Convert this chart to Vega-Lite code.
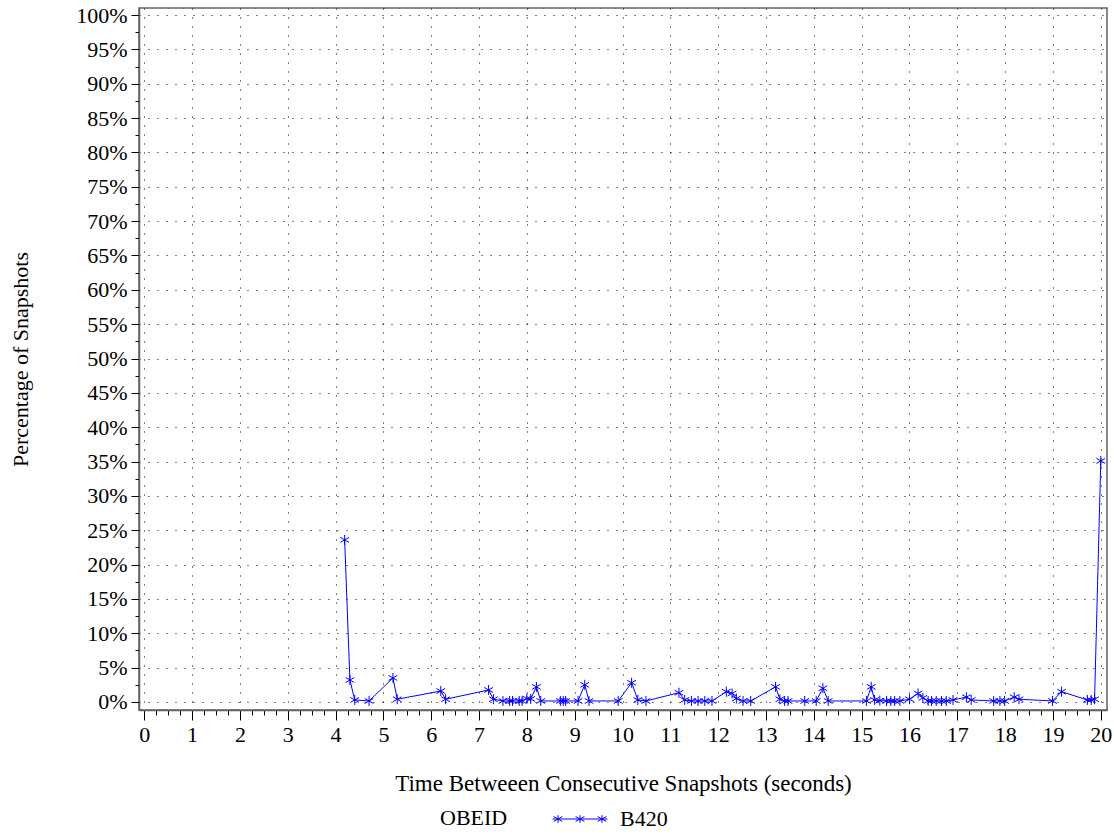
{
  "$schema": "https://vega.github.io/schema/vega-lite/v6.json",
  "width": 968,
  "height": 702,
  "autosize": {"type": "none"},
  "padding": {"left": 139, "top": 8, "right": 7, "bottom": 127},
  "background": "white",
  "config": {
    "font": "Liberation Serif",
    "view": {"stroke": "#606060", "strokeWidth": 1.5},
    "axis": {"labelFont": "Liberation Serif", "titleFont": "Liberation Serif"},
    "legend": {"labelFont": "Liberation Serif", "titleFont": "Liberation Serif"}
  },
  "data": {
    "values": [
      {"t": 4.19, "pct": 23.6, "OBEID": "B420"},
      {"t": 4.30, "pct": 3.2, "OBEID": "B420"},
      {"t": 4.40, "pct": 0.3, "OBEID": "B420"},
      {"t": 4.70, "pct": 0.15, "OBEID": "B420"},
      {"t": 5.20, "pct": 3.5, "OBEID": "B420"},
      {"t": 5.29, "pct": 0.4, "OBEID": "B420"},
      {"t": 6.20, "pct": 1.6, "OBEID": "B420"},
      {"t": 6.30, "pct": 0.4, "OBEID": "B420"},
      {"t": 7.20, "pct": 1.75, "OBEID": "B420"},
      {"t": 7.30, "pct": 0.4, "OBEID": "B420"},
      {"t": 7.50, "pct": 0.15, "OBEID": "B420"},
      {"t": 7.64, "pct": 0.15, "OBEID": "B420"},
      {"t": 7.70, "pct": 0.15, "OBEID": "B420"},
      {"t": 7.84, "pct": 0.15, "OBEID": "B420"},
      {"t": 7.90, "pct": 0.15, "OBEID": "B420"},
      {"t": 8.00, "pct": 0.5, "OBEID": "B420"},
      {"t": 8.08, "pct": 0.45, "OBEID": "B420"},
      {"t": 8.20, "pct": 2.2, "OBEID": "B420"},
      {"t": 8.29, "pct": 0.15, "OBEID": "B420"},
      {"t": 8.70, "pct": 0.15, "OBEID": "B420"},
      {"t": 8.76, "pct": 0.15, "OBEID": "B420"},
      {"t": 8.81, "pct": 0.15, "OBEID": "B420"},
      {"t": 9.07, "pct": 0.15, "OBEID": "B420"},
      {"t": 9.21, "pct": 2.5, "OBEID": "B420"},
      {"t": 9.30, "pct": 0.15, "OBEID": "B420"},
      {"t": 9.91, "pct": 0.15, "OBEID": "B420"},
      {"t": 10.19, "pct": 2.8, "OBEID": "B420"},
      {"t": 10.32, "pct": 0.3, "OBEID": "B420"},
      {"t": 10.49, "pct": 0.15, "OBEID": "B420"},
      {"t": 11.18, "pct": 1.35, "OBEID": "B420"},
      {"t": 11.30, "pct": 0.3, "OBEID": "B420"},
      {"t": 11.44, "pct": 0.15, "OBEID": "B420"},
      {"t": 11.58, "pct": 0.15, "OBEID": "B420"},
      {"t": 11.72, "pct": 0.15, "OBEID": "B420"},
      {"t": 11.87, "pct": 0.15, "OBEID": "B420"},
      {"t": 12.17, "pct": 1.5, "OBEID": "B420"},
      {"t": 12.29, "pct": 1.25, "OBEID": "B420"},
      {"t": 12.38, "pct": 0.5, "OBEID": "B420"},
      {"t": 12.52, "pct": 0.15, "OBEID": "B420"},
      {"t": 12.68, "pct": 0.15, "OBEID": "B420"},
      {"t": 13.20, "pct": 2.2, "OBEID": "B420"},
      {"t": 13.29, "pct": 0.4, "OBEID": "B420"},
      {"t": 13.39, "pct": 0.15, "OBEID": "B420"},
      {"t": 13.46, "pct": 0.15, "OBEID": "B420"},
      {"t": 13.81, "pct": 0.15, "OBEID": "B420"},
      {"t": 14.05, "pct": 0.15, "OBEID": "B420"},
      {"t": 14.19, "pct": 2.0, "OBEID": "B420"},
      {"t": 14.30, "pct": 0.15, "OBEID": "B420"},
      {"t": 15.10, "pct": 0.15, "OBEID": "B420"},
      {"t": 15.20, "pct": 2.2, "OBEID": "B420"},
      {"t": 15.27, "pct": 0.3, "OBEID": "B420"},
      {"t": 15.38, "pct": 0.2, "OBEID": "B420"},
      {"t": 15.52, "pct": 0.15, "OBEID": "B420"},
      {"t": 15.61, "pct": 0.15, "OBEID": "B420"},
      {"t": 15.69, "pct": 0.15, "OBEID": "B420"},
      {"t": 15.80, "pct": 0.15, "OBEID": "B420"},
      {"t": 16.00, "pct": 0.4, "OBEID": "B420"},
      {"t": 16.18, "pct": 1.25, "OBEID": "B420"},
      {"t": 16.28, "pct": 0.6, "OBEID": "B420"},
      {"t": 16.39, "pct": 0.15, "OBEID": "B420"},
      {"t": 16.46, "pct": 0.15, "OBEID": "B420"},
      {"t": 16.56, "pct": 0.15, "OBEID": "B420"},
      {"t": 16.67, "pct": 0.15, "OBEID": "B420"},
      {"t": 16.77, "pct": 0.15, "OBEID": "B420"},
      {"t": 16.91, "pct": 0.3, "OBEID": "B420"},
      {"t": 17.19, "pct": 0.7, "OBEID": "B420"},
      {"t": 17.29, "pct": 0.3, "OBEID": "B420"},
      {"t": 17.76, "pct": 0.15, "OBEID": "B420"},
      {"t": 17.89, "pct": 0.15, "OBEID": "B420"},
      {"t": 17.99, "pct": 0.15, "OBEID": "B420"},
      {"t": 18.19, "pct": 0.7, "OBEID": "B420"},
      {"t": 18.29, "pct": 0.4, "OBEID": "B420"},
      {"t": 18.99, "pct": 0.15, "OBEID": "B420"},
      {"t": 19.18, "pct": 1.5, "OBEID": "B420"},
      {"t": 19.72, "pct": 0.3, "OBEID": "B420"},
      {"t": 19.80, "pct": 0.3, "OBEID": "B420"},
      {"t": 19.87, "pct": 0.4, "OBEID": "B420"},
      {"t": 20.00, "pct": 35.1, "OBEID": "B420"}
    ]
  },
  "encoding": {
    "x": {
      "field": "t",
      "type": "quantitative",
      "scale": {"domain": [-0.11, 20.13], "nice": false, "zero": false},
      "axis": {
        "values": [0,0.25,0.5,0.75,1,1.25,1.5,1.75,2,2.25,2.5,2.75,3,3.25,3.5,3.75,4,4.25,4.5,4.75,5,5.25,5.5,5.75,6,6.25,6.5,6.75,7,7.25,7.5,7.75,8,8.25,8.5,8.75,9,9.25,9.5,9.75,10,10.25,10.5,10.75,11,11.25,11.5,11.75,12,12.25,12.5,12.75,13,13.25,13.5,13.75,14,14.25,14.5,14.75,15,15.25,15.5,15.75,16,16.25,16.5,16.75,17,17.25,17.5,17.75,18,18.25,18.5,18.75,19,19.25,19.5,19.75,20],
        "labelExpr": "abs(datum.value - round(datum.value)) < 0.01 ? format(datum.value, 'd') : ''",
        "tickSize": {"condition": {"test": "abs(datum.value - round(datum.value)) < 0.01", "value": 10}, "value": 5},
        "tickColor": "black",
        "tickWidth": 1,
        "grid": true,
        "gridColor": "black",
        "gridDash": [1, 8],
        "gridWidth": 1,
        "gridOpacity": {"condition": {"test": "abs(datum.value - round(datum.value)) < 0.01", "value": 1}, "value": 0},
        "domainColor": "#606060",
        "domainWidth": 1.5,
        "labelFont": "Liberation Serif",
        "labelFontSize": 22,
        "labelColor": "black",
        "labelPadding": 4,
        "labelFlush": false,
        "labelOverlap": false,
        "title": "Time Betweeen Consecutive Snapshots (seconds)",
        "titleFont": "Liberation Serif",
        "titleFontSize": 23,
        "titleFontWeight": "normal",
        "titleColor": "black",
        "titleY": 80,
        "titleBaseline": "alphabetic"
      }
    },
    "y": {
      "field": "pct",
      "type": "quantitative",
      "scale": {"domain": [-1.165, 101.02], "nice": false, "zero": false},
      "axis": {
        "values": [0,2.5,5,7.5,10,12.5,15,17.5,20,22.5,25,27.5,30,32.5,35,37.5,40,42.5,45,47.5,50,52.5,55,57.5,60,62.5,65,67.5,70,72.5,75,77.5,80,82.5,85,87.5,90,92.5,95,97.5,100],
        "labelExpr": "datum.value % 5 === 0 ? datum.value + '%' : ''",
        "tickSize": {"condition": {"test": "datum.value % 5 === 0", "value": 8}, "value": 4},
        "tickColor": "black",
        "tickWidth": 1,
        "grid": true,
        "gridColor": "black",
        "gridDash": [1, 8],
        "gridWidth": 1,
        "gridOpacity": {"condition": {"test": "datum.value % 5 === 0", "value": 1}, "value": 0},
        "domainColor": "#606060",
        "domainWidth": 1.5,
        "labelFont": "Liberation Serif",
        "labelFontSize": 22,
        "labelColor": "black",
        "labelPadding": 4,
        "labelFlush": false,
        "labelOverlap": false,
        "title": "Percentage of Snapshots",
        "titleFont": "Liberation Serif",
        "titleFontSize": 22,
        "titleFontWeight": "normal",
        "titleColor": "black",
        "titleX": -119,
        "titleY": 351,
        "titleAngle": 270,
        "titleAlign": "center",
        "titleBaseline": "middle"
      }
    }
  },
  "layer": [
    {
      "mark": {"type": "line", "strokeWidth": 1},
      "encoding": {
        "color": {
          "field": "OBEID",
          "type": "nominal",
          "scale": {"range": ["#0000ff"]},
          "legend": {
            "orient": "none",
            "legendX": 301,
            "legendY": 783,
            "direction": "horizontal",
            "padding": 0,
            "title": "OBEID",
            "titleOrient": "left",
            "titleAnchor": "middle",
            "titleFont": "Liberation Serif",
            "titleFontSize": 22,
            "titleFontWeight": "normal",
            "titleColor": "black",
            "titlePadding": 44,
            "titleBaseline": "line-top",
            "titleLineHeight": 16,
            "labelFont": "Liberation Serif",
            "labelFontSize": 22,
            "labelColor": "black",
            "labelOffset": 12,
            "symbolType": "M-1,0L1,0M-0.8,-0.14L-0.8,0.14M-0.96,-0.09L-0.64,0.09M-0.96,0.09L-0.64,-0.09M0,-0.14L0,0.14M-0.16,-0.09L0.16,0.09M-0.16,0.09L0.16,-0.09M0.8,-0.14L0.8,0.14M0.64,-0.09L0.96,0.09M0.64,0.09L0.96,-0.09",
            "symbolSize": 3025,
            "symbolStrokeWidth": 1,
            "symbolStrokeColor": "#0000ff",
            "symbolFillColor": "transparent"
          }
        }
      }
    },
    {
      "mark": {
        "type": "point",
        "shape": "M0,-1L0,1M-0.87,-0.5L0.87,0.5M-0.87,0.5L0.87,-0.5",
        "size": 100,
        "filled": false,
        "stroke": "#0000ff",
        "strokeWidth": 1,
        "opacity": 1
      }
    }
  ]
}
